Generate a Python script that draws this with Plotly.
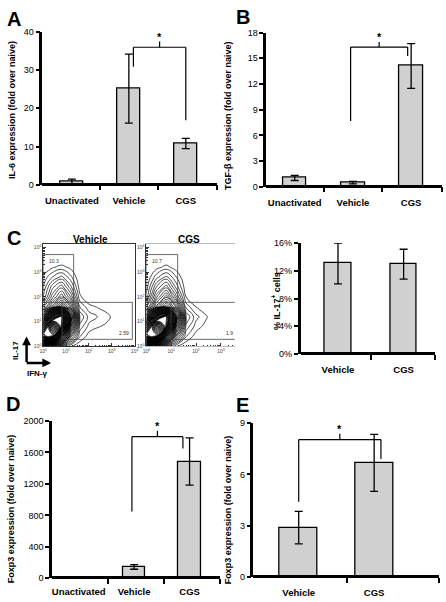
import numpy as np
import plotly.graph_objects as go

W, H = 446, 602
FONT = "Liberation Sans, Arial, sans-serif"

# ---------------- data ----------------
a_cats = ["Unactivated", "Vehicle", "CGS"]
a_vals = [0.9, 25.1, 10.8]
a_err = [0.6, 9.0, 1.35]
a_sig = [1.08, 2.0, 30.8, 16.9, 35.9, 37.4]   # x-left, x-right, leg bottoms, bracket top, tick top

b_cats = ["Unactivated", "Vehicle", "CGS"]
b_vals = [1.05, 0.5, 14.1]
b_err = [0.3, 0.15, 2.6]
b_sig = [0.96, 1.94, 7.7, 15.25, 16.3, 16.9]

c_cats = ["Vehicle", "CGS"]
c_vals = [13.05, 12.95]
c_err = [2.95, 2.15]

d_cats = ["Unactivated", "Vehicle", "CGS"]
d_vals = [1, 145, 1485]
d_err = [0, 30, 300]
d_sig = [0.96, 1.88, 850, 1650, 1800, 1875]

e_cats = ["Vehicle", "CGS"]
e_vals = [2.9, 6.67]
e_err = [0.95, 1.66]
e_sig = [0.0, 1.09, 4.4, 6.9, 8.03, 8.37]

# flow cytometry (IFN-gamma vs IL-17), grid in decades, density levels
flow_grid = [0.0, 0.4, 0.8, 1.2, 1.6, 2.0, 2.4, 2.8, 3.2, 3.6, 4.0]
flow_ticks = ["10<sup>0</sup>", "10<sup>1</sup>", "10<sup>2</sup>", "10<sup>3</sup>", "10<sup>4</sup>"]
veh_density = [
    [4, 4, 3, 1.2, 0.3, 0, 0, 0, 0, 0, 0],
    [45, 42, 18, 6, 1.8, 0.6, 0, 0, 0, 0, 0],
    [35, 50, 38, 12, 3, 1.5, 1.1, 0.7, 0, 0, 0],
    [14, 32, 40, 18, 4, 2.2, 1.7, 1.35, 0.3, 0, 0],
    [5, 9, 13, 9, 2.5, 1.3, 0.9, 0.4, 0, 0, 0],
    [2.5, 6, 8.5, 5.5, 1.2, 0.2, 0, 0, 0, 0, 0],
    [1.8, 4.5, 6, 3.5, 0.6, 0, 0, 0, 0, 0, 0],
    [1.2, 2.5, 3.5, 2, 0.3, 0, 0, 0, 0, 0, 0],
    [0.4, 0.9, 1.3, 0.8, 0, 0, 0, 0, 0, 0, 0],
    [0, 0, 0, 0, 0, 0, 0, 0, 0, 0, 0],
    [0, 0, 0, 0, 0, 0, 0, 0, 0, 0, 0],
]
cgs_density = [
    [4, 4, 3, 1.2, 0.3, 0, 0, 0, 0, 0, 0],
    [45, 42, 18, 6, 1.8, 0.6, 0, 0, 0, 0, 0],
    [35, 50, 38, 12, 3, 1.4, 0.7, 0, 0, 0, 0],
    [14, 32, 40, 18, 4, 2.0, 1.15, 0, 0, 0, 0],
    [3.5, 9, 13, 9, 2.2, 1.0, 0.3, 0, 0, 0, 0],
    [1.2, 6, 9, 5, 1, 0, 0, 0, 0, 0, 0],
    [0.6, 4, 6, 3, 0.4, 0, 0, 0, 0, 0, 0],
    [0.2, 2.2, 3.5, 1.8, 0.1, 0, 0, 0, 0, 0, 0],
    [0, 0.7, 1.3, 0.6, 0, 0, 0, 0, 0, 0, 0],
    [0, 0, 0, 0, 0, 0, 0, 0, 0, 0, 0],
    [0, 0, 0, 0, 0, 0, 0, 0, 0, 0, 0],
]
veh_gates = ["10.3", "2.59"]
cgs_gates = ["10.7", "1.9"]


def X(px):
    return px / W


def Y(py):
    return 1 - py / H


fig = go.Figure()
BAR = "#d0d0d0"


def add_bars(cats, vals, err, ax, width):
    fig.add_trace(go.Bar(
        x=list(range(len(cats))), y=vals, width=width,
        marker=dict(color=BAR, line=dict(color="black", width=1.3)),
        error_y=dict(type="data", array=err, color="black", thickness=1.3, width=4),
        xaxis="x" + ax, yaxis="y" + ax, showlegend=False, hoverinfo="skip"))


def bar_axes(ax, cats, xpx, ypx, xr, ymax, dtick, minor, ticklen, ysuffix=""):
    k = ax
    fig.layout["xaxis" + k] = dict(
        domain=[X(xpx[0]), X(xpx[1])], range=xr, anchor="free",
        position=Y(ypx[1] - 1.25),
        showline=True, linewidth=2.5, linecolor="black",
        tickvals=list(range(len(cats))), ticktext=["<b>%s</b>" % c for c in cats],
        ticks="outside", ticklen=ticklen, tickcolor="rgba(0,0,0,0)",
        tickfont=dict(size=9.5, color="black", family=FONT),
        minor=dict(tickmode="array", tickvals=minor, ticks="outside", ticklen=5,
                   tickwidth=2, tickcolor="black"),
        showgrid=False, zeroline=False, fixedrange=True)
    fig.layout["yaxis" + k] = dict(
        domain=[Y(ypx[1]), Y(ypx[0])], range=[0, ymax], anchor="x" + k,
        showline=True, linewidth=2.5, linecolor="black", dtick=dtick, tick0=0,
        ticks="outside", ticklen=4, tickwidth=1.5, tickcolor="black",
        ticksuffix=ysuffix,
        tickfont=dict(size=9, color="black", family=FONT),
        showgrid=False, zeroline=False, fixedrange=True)


def bracket(ax, s):
    xl, xr_, yl, yr, yt, ytick = s
    xm = (xl + xr_) / 2
    k = "x" + ax, "y" + ax
    for (x0, y0, x1, y1) in [(xl, yl, xl, yt), (xl, yt, xr_, yt), (xr_, yt, xr_, yr), (xm, yt, xm, ytick)]:
        fig.add_shape(type="line", xref=k[0], yref=k[1], x0=x0, y0=y0, x1=x1, y1=y1,
                      line=dict(color="black", width=1.2))
    fig.add_annotation(xref=k[0], yref=k[1], x=xm, y=ytick, text="<b>*</b>", showarrow=False,
                       yanchor="bottom", yshift=-3, font=dict(size=11, color="#000000", family=FONT))


# Panel A
add_bars(a_cats, a_vals, a_err, "", 0.41)
bar_axes("", a_cats, (39, 217), (27, 183), [-0.52, 2.55], 40, 10, [0.5, 1.52, 2.55], 7)
bracket("", a_sig)
# Panel B
add_bars(b_cats, b_vals, b_err, "2", 0.41)
bar_axes("2", b_cats, (267, 446), (28, 185), [-0.49, 2.53], 18, 3, [0.5, 1.5, 2.53], 7)
bracket("2", b_sig)
# Panel C bars
add_bars(c_cats, c_vals, c_err, "5", 0.4)
bar_axes("5", c_cats, (302, 439), (242, 355), [-0.57, 1.48], 16, 4, [0.5, 1.48], 7, "%")
# Panel D
add_bars(d_cats, d_vals, d_err, "6", 0.41)
bar_axes("6", d_cats, (49, 220), (423, 583), [-0.48, 2.55], 2000, 400, [0.53, 1.54, 2.55], 5)
bracket("6", d_sig)
# Panel E
add_bars(e_cats, e_vals, e_err, "7", 0.5)
bar_axes("7", e_cats, (254, 443), (425, 582), [-0.6, 1.86], 9, 3, [0.64, 1.86], 7)
bracket("7", e_sig)

# Flow plots
minor_ticks = [n + np.log10(m) for n in range(4) for m in range(2, 10)]


def flow(ax, z, xpx, xmax, gates, gate_lbl, frame_col, right_frame):
    fig.add_trace(go.Contour(
        x=flow_grid, y=flow_grid, z=z, xaxis="x" + ax, yaxis="y" + ax,
        contours=dict(coloring="lines", start=1, end=50, size=0.75),
        colorscale=[[0, "black"], [1, "black"]], showscale=False,
        line=dict(width=0.7, smoothing=1.3), hoverinfo="skip"))
    fig.layout["xaxis" + ax] = dict(
        domain=[X(xpx[0]), X(xpx[1])], range=[0, xmax], anchor="y" + ax,
        showline=True, linewidth=0.8, linecolor=frame_col, mirror=True,
        tickvals=[0, 1, 2, 3, 4], ticktext=flow_ticks, ticks="inside", ticklen=3,
        tickwidth=0.7, tickcolor="#333",
        minor=dict(tickmode="array", tickvals=minor_ticks, ticks="inside", ticklen=1.5,
                   tickwidth=0.5, tickcolor="#333"),
        tickfont=dict(size=5, color="#444", family=FONT),
        showgrid=False, zeroline=False, fixedrange=True)
    fig.layout["yaxis" + ax] = dict(
        domain=[Y(347), Y(243)], range=[0, 4.15], anchor="x" + ax,
        showline=True, linewidth=0.8, linecolor="#333", mirror=right_frame,
        tickvals=[0, 1, 2, 3, 4], ticktext=flow_ticks, ticks="inside", ticklen=3,
        tickwidth=0.7, tickcolor="#333",
        minor=dict(tickmode="array", tickvals=minor_ticks, ticks="inside", ticklen=1.5,
                   tickwidth=0.5, tickcolor="#333"),
        tickfont=dict(size=5, color="#444", family=FONT),
        showgrid=False, zeroline=False, fixedrange=True)
    g1x, g2x = gates
    fig.add_shape(type="rect", xref="x" + ax, yref="y" + ax, x0=0.0, x1=g1x, y0=1.78, y1=3.72,
                  line=dict(color="#444", width=0.8))
    fig.add_shape(type="rect", xref="x" + ax, yref="y" + ax, x0=g2x, x1=3.9, y0=0.28, y1=1.78,
                  line=dict(color="#444", width=0.8))
    fig.add_annotation(xref="x" + ax, yref="y" + ax, x=0.15, y=3.66, text=gate_lbl[0],
                       showarrow=False, xanchor="left", yanchor="top",
                       font=dict(size=5, color="#333", family=FONT))
    fig.add_annotation(xref="x" + ax, yref="y" + ax, x=min(3.82, xmax), y=0.33, text=gate_lbl[1],
                       showarrow=False, xanchor="right", yanchor="bottom",
                       font=dict(size=5, color="#333", family=FONT))


flow("3", veh_density, (40, 133), 4.0, (1.33, 0.82), veh_gates, "#333", True)
flow("4", cgs_density, (145, 235), 3.56, (1.26, 0.99), cgs_gates, "#bbb", False)


# Text annotations
def txt(px, py, text, size, angle=0, bold=True, xanchor="center"):
    fig.add_annotation(xref="paper", yref="paper", x=X(px), y=Y(py),
                       text=("<b>%s</b>" % text) if bold else text, showarrow=False,
                       textangle=angle, xanchor=xanchor, yanchor="middle",
                       font=dict(size=size, color="black", family=FONT))


txt(10, 14, "A", 20)
txt(243, 12, "B", 20)
txt(10, 237, "C", 20)
txt(9, 406, "D", 20)
txt(243, 407, "E", 20)

txt(8, 107, "IL-6 expression (fold over naive)", 9, -90)
txt(228, 112, "TGF-β expression (fold over naive)", 9, -90)
txt(277, 301, "% IL-17<sup>+</sup> cells", 9, -90)
txt(8, 512, "Foxp3 expression (fold over naive)", 9, -90)
txt(229, 513, "Foxp3 expression (fold over naive)", 9, -90)

txt(88, 238, "Vehicle", 10)
txt(188, 238, "CGS", 10)
txt(11, 351, "IL-17", 8, -90)
txt(34, 375, "IFN-γ", 8)

fig.add_annotation(xref="paper", yref="paper", x=X(23), y=Y(337), ax=0, ay=27, text="",
                   showarrow=True, arrowhead=2, arrowsize=0.7, arrowwidth=2.5, arrowcolor="black",
                   standoff=0)
fig.add_annotation(xref="paper", yref="paper", x=X(48), y=Y(364), ax=-26, ay=0, text="",
                   showarrow=True, arrowhead=2, arrowsize=0.7, arrowwidth=2.5, arrowcolor="black",
                   standoff=0)

fig.update_layout(width=W, height=H, margin=dict(l=0, r=0, t=0, b=0),
                  paper_bgcolor="white", plot_bgcolor="white", showlegend=False,
                  bargap=0, font=dict(family=FONT, color="black"))
fig.write_html("out.html", config={"displayModeBar": False},
               post_script="document.body.style.margin='0';document.body.style.overflow='hidden';")
